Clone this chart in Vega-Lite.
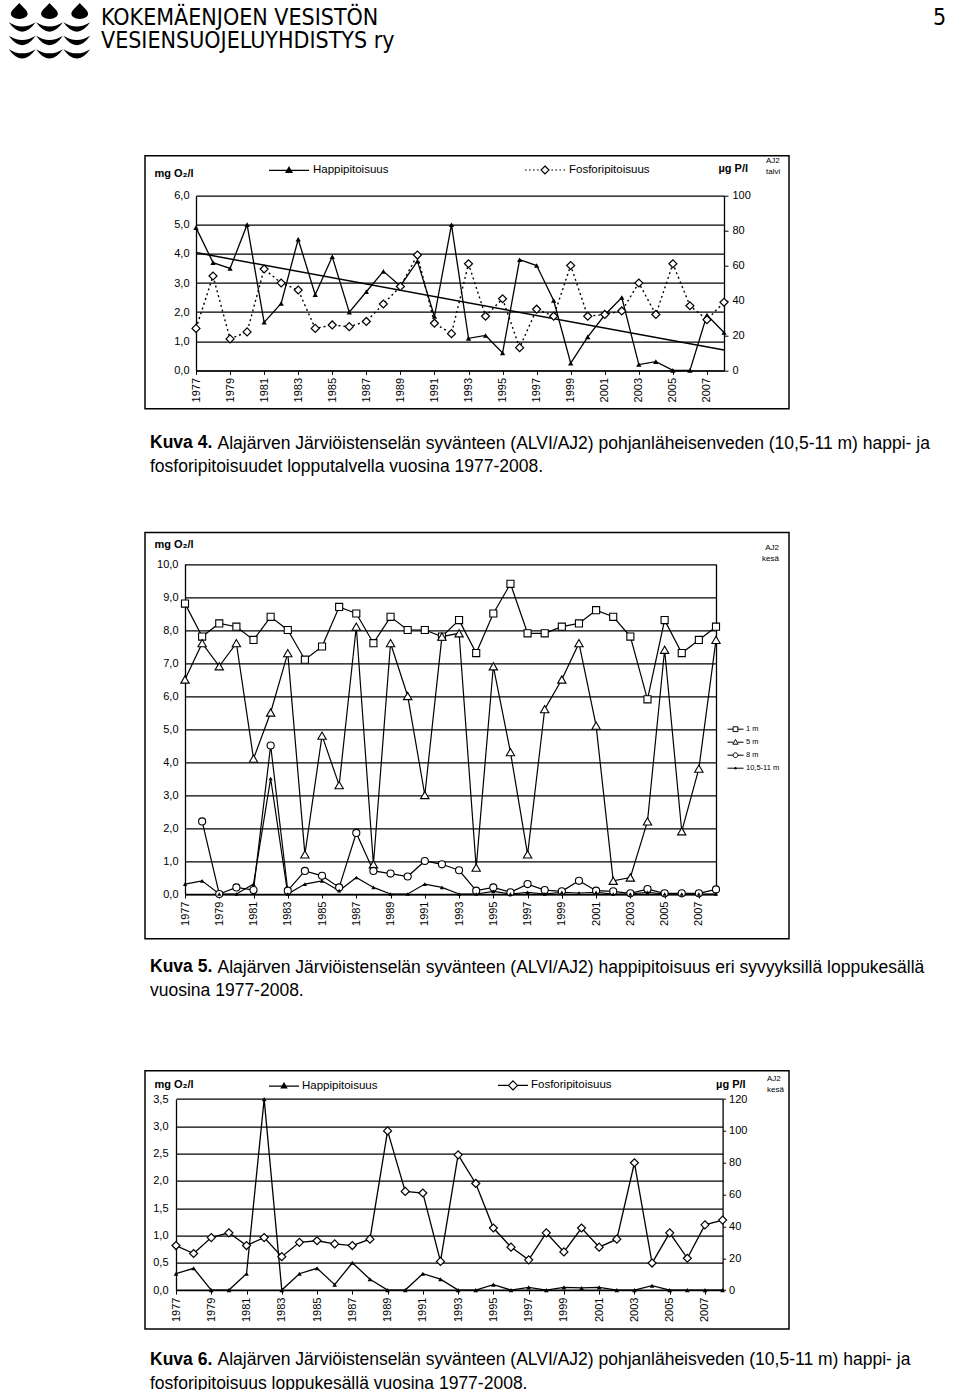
{
  "$schema": "https://vega.github.io/schema/vega-lite/v6.json",
  "background": "white",
  "padding": {"left": 8, "top": 0, "right": 5, "bottom": 5},
  "bounds": "flush",
  "spacing": 123.7,
  "resolve": {"scale": {"shape": "independent", "fill": "independent", "size": "independent", "stroke": "independent"}, "legend": {"shape": "independent", "fill": "independent", "stroke": "independent"}},
  "config": {
    "view": {"stroke": "black", "strokeWidth": 1.5},
    "font": "Liberation Sans",
    "axis": {"labelColor": "black", "titleColor": "black", "labelFont": "Liberation Sans", "titleFont": "Liberation Sans", "titleLimit": 2000},
    "legend": {"labelColor": "black", "labelFont": "Liberation Sans", "titleColor": "black", "titleFont": "Liberation Sans", "symbolStrokeColor": "black"},
    "title": {"color": "black", "subtitleColor": "black", "font": "Liberation Sans", "subtitleFont": "Liberation Sans"}
  },
  "datasets": {
    "winter": [
      {"year": 1977, "o2": 4.9, "p": 24}, {"year": 1978, "o2": 3.7, "p": 54}, {"year": 1979, "o2": 3.5, "p": 18},
      {"year": 1980, "o2": 5.0, "p": 22}, {"year": 1981, "o2": 1.65, "p": 58}, {"year": 1982, "o2": 2.3, "p": 50},
      {"year": 1983, "o2": 4.5, "p": 46}, {"year": 1984, "o2": 2.6, "p": 24}, {"year": 1985, "o2": 3.9, "p": 26},
      {"year": 1986, "o2": 2.0, "p": 25}, {"year": 1987, "o2": 2.7, "p": 28}, {"year": 1988, "o2": 3.4, "p": 38},
      {"year": 1989, "o2": 2.9, "p": 48}, {"year": 1990, "o2": 3.75, "p": 66}, {"year": 1991, "o2": 1.85, "p": 27},
      {"year": 1992, "o2": 5.0, "p": 21}, {"year": 1993, "o2": 1.1, "p": 61}, {"year": 1994, "o2": 1.2, "p": 31},
      {"year": 1995, "o2": 0.6, "p": 41}, {"year": 1996, "o2": 3.8, "p": 13}, {"year": 1997, "o2": 3.6, "p": 35},
      {"year": 1998, "o2": 2.4, "p": 31}, {"year": 1999, "o2": 0.25, "p": 60}, {"year": 2000, "o2": 1.15, "p": 31},
      {"year": 2001, "o2": 1.9, "p": 32}, {"year": 2002, "o2": 2.5, "p": 34}, {"year": 2003, "o2": 0.2, "p": 50},
      {"year": 2004, "o2": 0.3, "p": 32}, {"year": 2005, "o2": 0.0, "p": 61}, {"year": 2006, "o2": 0.0, "p": 37},
      {"year": 2007, "o2": 1.9, "p": 29}, {"year": 2008, "o2": 1.3, "p": 39}
    ],
    "depths": [
      {"year": 1977, "depth": "1 m", "o2": 8.8}, {"year": 1978, "depth": "1 m", "o2": 7.8}, {"year": 1979, "depth": "1 m", "o2": 8.2},
      {"year": 1980, "depth": "1 m", "o2": 8.1}, {"year": 1981, "depth": "1 m", "o2": 7.7}, {"year": 1982, "depth": "1 m", "o2": 8.4},
      {"year": 1983, "depth": "1 m", "o2": 8.0}, {"year": 1984, "depth": "1 m", "o2": 7.1}, {"year": 1985, "depth": "1 m", "o2": 7.5},
      {"year": 1986, "depth": "1 m", "o2": 8.7}, {"year": 1987, "depth": "1 m", "o2": 8.5}, {"year": 1988, "depth": "1 m", "o2": 7.6},
      {"year": 1989, "depth": "1 m", "o2": 8.4}, {"year": 1990, "depth": "1 m", "o2": 8.0}, {"year": 1991, "depth": "1 m", "o2": 8.0},
      {"year": 1992, "depth": "1 m", "o2": 7.8}, {"year": 1993, "depth": "1 m", "o2": 8.3}, {"year": 1994, "depth": "1 m", "o2": 7.3},
      {"year": 1995, "depth": "1 m", "o2": 8.5}, {"year": 1996, "depth": "1 m", "o2": 9.4}, {"year": 1997, "depth": "1 m", "o2": 7.9},
      {"year": 1998, "depth": "1 m", "o2": 7.9}, {"year": 1999, "depth": "1 m", "o2": 8.1}, {"year": 2000, "depth": "1 m", "o2": 8.2},
      {"year": 2001, "depth": "1 m", "o2": 8.6}, {"year": 2002, "depth": "1 m", "o2": 8.4}, {"year": 2003, "depth": "1 m", "o2": 7.8},
      {"year": 2004, "depth": "1 m", "o2": 5.9}, {"year": 2005, "depth": "1 m", "o2": 8.3}, {"year": 2006, "depth": "1 m", "o2": 7.3},
      {"year": 2007, "depth": "1 m", "o2": 7.7}, {"year": 2008, "depth": "1 m", "o2": 8.1},
      {"year": 1977, "depth": "5 m", "o2": 6.5}, {"year": 1978, "depth": "5 m", "o2": 7.6}, {"year": 1979, "depth": "5 m", "o2": 6.9},
      {"year": 1980, "depth": "5 m", "o2": 7.6}, {"year": 1981, "depth": "5 m", "o2": 4.1}, {"year": 1982, "depth": "5 m", "o2": 5.5},
      {"year": 1983, "depth": "5 m", "o2": 7.3}, {"year": 1984, "depth": "5 m", "o2": 1.2}, {"year": 1985, "depth": "5 m", "o2": 4.8},
      {"year": 1986, "depth": "5 m", "o2": 3.3}, {"year": 1987, "depth": "5 m", "o2": 8.1}, {"year": 1988, "depth": "5 m", "o2": 0.9},
      {"year": 1989, "depth": "5 m", "o2": 7.6}, {"year": 1990, "depth": "5 m", "o2": 6.0}, {"year": 1991, "depth": "5 m", "o2": 3.0},
      {"year": 1992, "depth": "5 m", "o2": 7.8}, {"year": 1993, "depth": "5 m", "o2": 7.9}, {"year": 1994, "depth": "5 m", "o2": 0.8},
      {"year": 1995, "depth": "5 m", "o2": 6.9}, {"year": 1996, "depth": "5 m", "o2": 4.3}, {"year": 1997, "depth": "5 m", "o2": 1.2},
      {"year": 1998, "depth": "5 m", "o2": 5.6}, {"year": 1999, "depth": "5 m", "o2": 6.5}, {"year": 2000, "depth": "5 m", "o2": 7.6},
      {"year": 2001, "depth": "5 m", "o2": 5.1}, {"year": 2002, "depth": "5 m", "o2": 0.4}, {"year": 2003, "depth": "5 m", "o2": 0.5},
      {"year": 2004, "depth": "5 m", "o2": 2.2}, {"year": 2005, "depth": "5 m", "o2": 7.4}, {"year": 2006, "depth": "5 m", "o2": 1.9},
      {"year": 2007, "depth": "5 m", "o2": 3.8}, {"year": 2008, "depth": "5 m", "o2": 7.7},
      {"year": 1978, "depth": "8 m", "o2": 2.2}, {"year": 1979, "depth": "8 m", "o2": 0.0},
      {"year": 1980, "depth": "8 m", "o2": 0.2}, {"year": 1981, "depth": "8 m", "o2": 0.12}, {"year": 1982, "depth": "8 m", "o2": 4.5},
      {"year": 1983, "depth": "8 m", "o2": 0.1}, {"year": 1984, "depth": "8 m", "o2": 0.7}, {"year": 1985, "depth": "8 m", "o2": 0.55},
      {"year": 1986, "depth": "8 m", "o2": 0.2}, {"year": 1987, "depth": "8 m", "o2": 1.85}, {"year": 1988, "depth": "8 m", "o2": 0.7},
      {"year": 1989, "depth": "8 m", "o2": 0.62}, {"year": 1990, "depth": "8 m", "o2": 0.53}, {"year": 1991, "depth": "8 m", "o2": 1.0},
      {"year": 1992, "depth": "8 m", "o2": 0.9}, {"year": 1993, "depth": "8 m", "o2": 0.72}, {"year": 1994, "depth": "8 m", "o2": 0.1},
      {"year": 1995, "depth": "8 m", "o2": 0.2}, {"year": 1996, "depth": "8 m", "o2": 0.05}, {"year": 1997, "depth": "8 m", "o2": 0.3},
      {"year": 1998, "depth": "8 m", "o2": 0.12}, {"year": 1999, "depth": "8 m", "o2": 0.08}, {"year": 2000, "depth": "8 m", "o2": 0.4},
      {"year": 2001, "depth": "8 m", "o2": 0.1}, {"year": 2002, "depth": "8 m", "o2": 0.08}, {"year": 2003, "depth": "8 m", "o2": 0.02},
      {"year": 2004, "depth": "8 m", "o2": 0.15}, {"year": 2005, "depth": "8 m", "o2": 0.02}, {"year": 2006, "depth": "8 m", "o2": 0.02},
      {"year": 2007, "depth": "8 m", "o2": 0.02}, {"year": 2008, "depth": "8 m", "o2": 0.14},
      {"year": 1977, "depth": "10,5-11 m", "o2": 0.3}, {"year": 1978, "depth": "10,5-11 m", "o2": 0.4}, {"year": 1979, "depth": "10,5-11 m", "o2": 0.0},
      {"year": 1980, "depth": "10,5-11 m", "o2": 0.0}, {"year": 1981, "depth": "10,5-11 m", "o2": 0.3}, {"year": 1982, "depth": "10,5-11 m", "o2": 3.5},
      {"year": 1983, "depth": "10,5-11 m", "o2": 0.0}, {"year": 1984, "depth": "10,5-11 m", "o2": 0.3}, {"year": 1985, "depth": "10,5-11 m", "o2": 0.4},
      {"year": 1986, "depth": "10,5-11 m", "o2": 0.1}, {"year": 1987, "depth": "10,5-11 m", "o2": 0.5}, {"year": 1988, "depth": "10,5-11 m", "o2": 0.2},
      {"year": 1989, "depth": "10,5-11 m", "o2": 0.0}, {"year": 1990, "depth": "10,5-11 m", "o2": 0.0}, {"year": 1991, "depth": "10,5-11 m", "o2": 0.3},
      {"year": 1992, "depth": "10,5-11 m", "o2": 0.2}, {"year": 1993, "depth": "10,5-11 m", "o2": 0.0}, {"year": 1994, "depth": "10,5-11 m", "o2": 0.0},
      {"year": 1995, "depth": "10,5-11 m", "o2": 0.08}, {"year": 1996, "depth": "10,5-11 m", "o2": 0.0}, {"year": 1997, "depth": "10,5-11 m", "o2": 0.05},
      {"year": 1998, "depth": "10,5-11 m", "o2": 0.0}, {"year": 1999, "depth": "10,5-11 m", "o2": 0.05}, {"year": 2000, "depth": "10,5-11 m", "o2": 0.03},
      {"year": 2001, "depth": "10,5-11 m", "o2": 0.05}, {"year": 2002, "depth": "10,5-11 m", "o2": 0.0}, {"year": 2003, "depth": "10,5-11 m", "o2": 0.0},
      {"year": 2004, "depth": "10,5-11 m", "o2": 0.05}, {"year": 2005, "depth": "10,5-11 m", "o2": 0.0}, {"year": 2006, "depth": "10,5-11 m", "o2": 0.0},
      {"year": 2007, "depth": "10,5-11 m", "o2": 0.0}, {"year": 2008, "depth": "10,5-11 m", "o2": 0.0}
    ],
    "summer": [
      {"year": 1977, "o2": 0.3, "p": 28}, {"year": 1978, "o2": 0.4, "p": 23}, {"year": 1979, "o2": 0.0, "p": 33},
      {"year": 1980, "o2": 0.0, "p": 36}, {"year": 1981, "o2": 0.3, "p": 28}, {"year": 1982, "o2": 3.5, "p": 33},
      {"year": 1983, "o2": 0.0, "p": 21}, {"year": 1984, "o2": 0.3, "p": 30}, {"year": 1985, "o2": 0.4, "p": 31},
      {"year": 1986, "o2": 0.1, "p": 29}, {"year": 1987, "o2": 0.5, "p": 28}, {"year": 1988, "o2": 0.2, "p": 32},
      {"year": 1989, "o2": 0.0, "p": 100}, {"year": 1990, "o2": 0.0, "p": 62}, {"year": 1991, "o2": 0.3, "p": 61},
      {"year": 1992, "o2": 0.2, "p": 18}, {"year": 1993, "o2": 0.0, "p": 85}, {"year": 1994, "o2": 0.0, "p": 67},
      {"year": 1995, "o2": 0.1, "p": 39}, {"year": 1996, "o2": 0.0, "p": 27}, {"year": 1997, "o2": 0.05, "p": 19},
      {"year": 1998, "o2": 0.0, "p": 36}, {"year": 1999, "o2": 0.05, "p": 24}, {"year": 2000, "o2": 0.04, "p": 39},
      {"year": 2001, "o2": 0.05, "p": 27}, {"year": 2002, "o2": 0.0, "p": 32}, {"year": 2003, "o2": 0.0, "p": 80},
      {"year": 2004, "o2": 0.08, "p": 17}, {"year": 2005, "o2": 0.0, "p": 36}, {"year": 2006, "o2": 0.0, "p": 20},
      {"year": 2007, "o2": 0.0, "p": 41}, {"year": 2008, "o2": 0.0, "p": 44}
    ]
  },
  "vconcat": [
    {
      "width": 644,
      "height": 31.3,
      "view": {"stroke": null},
      "layer": [
        {
          "data": {"values": [{"emblem": "KVVY"}]},
          "mark": {"type": "point", "filled": true, "fill": "black", "strokeWidth": 0, "opacity": 1, "size": 7056,
            "shape": "M-0.72,-0.68C-0.62,-0.56 -0.52,-0.5 -0.52,-0.42C-0.52,-0.35 -0.61,-0.3 -0.72,-0.3C-0.83,-0.3 -0.92,-0.35 -0.92,-0.42C-0.92,-0.5 -0.82,-0.56 -0.72,-0.68Z M0,-0.68C0.1,-0.56 0.2,-0.5 0.2,-0.42C0.2,-0.35 0.11,-0.3 0,-0.3C-0.11,-0.3 -0.2,-0.35 -0.2,-0.42C-0.2,-0.5 -0.1,-0.56 0,-0.68Z M0.72,-0.68C0.82,-0.56 0.92,-0.5 0.92,-0.42C0.92,-0.35 0.83,-0.3 0.72,-0.3C0.61,-0.3 0.52,-0.35 0.52,-0.42C0.52,-0.5 0.62,-0.56 0.72,-0.68Z M-0.97,-0.22Q-0.65,-0.02 -0.33,-0.22Q-0.65,0.23 -0.97,-0.22Z M-0.32,-0.22Q0,-0.02 0.32,-0.22Q0,0.23 -0.32,-0.22Z M0.33,-0.22Q0.65,-0.02 0.97,-0.22Q0.65,0.23 0.33,-0.22Z M-0.97,0.1Q-0.65,0.3 -0.33,0.1Q-0.65,0.55 -0.97,0.1Z M-0.32,0.1Q0,0.3 0.32,0.1Q0,0.55 -0.32,0.1Z M0.33,0.1Q0.65,0.3 0.97,0.1Q0.65,0.55 0.33,0.1Z M-0.97,0.42Q-0.65,0.62 -0.33,0.42Q-0.65,0.87 -0.97,0.42Z M-0.32,0.42Q0,0.62 0.32,0.42Q0,0.87 -0.32,0.42Z M0.33,0.42Q0.65,0.62 0.97,0.42Q0.65,0.87 0.33,0.42Z"},
          "encoding": {
            "x": {"field": "emblem", "type": "nominal", "scale": {"type": "point", "padding": 0, "range": [-95.5, -95.5]}, "axis": null},
            "y": {"field": "emblem", "type": "nominal", "scale": {"type": "point", "padding": 0, "range": [31.5, 31.5]}, "axis": null}
          }
        },
        {
          "data": {"values": [
            {"block": "name", "line": "1", "text": "KOKEMÄENJOEN VESISTÖN"},
            {"block": "name", "line": "2", "text": "VESIENSUOJELUYHDISTYS ry"},
            {"block": "page", "line": "1", "text": "5"}
          ]},
          "mark": {"type": "text", "align": "left", "baseline": "alphabetic", "font": "DejaVu Sans Condensed, Liberation Sans Narrow, sans-serif", "fontSize": 23, "color": "black"},
          "encoding": {
            "x": {"field": "block", "type": "nominal", "scale": {"type": "point", "padding": 0, "domain": ["name", "page"], "range": [-44, 788]}, "axis": null},
            "y": {"field": "line", "type": "ordinal", "scale": {"type": "point", "padding": 0, "domain": ["1", "2"], "range": [24.5, 47.8]}, "axis": null},
            "text": {"field": "text"}
          }
        }
      ],
      "resolve": {"scale": {"x": "independent", "y": "independent"}}
    },
    {
      "width": 644,
      "height": 253,
      "title": {
        "text": "Kuva 4.",
        "subtitle": "fosforipitoisuudet lopputalvella vuosina 1977-2008.",
        "orient": "bottom", "anchor": "start", "frame": "group", "offset": -17.5, "dx": 5,
        "fontSize": 17.5, "fontWeight": "bold", "subtitleFontSize": 17.5, "subtitlePadding": 6.5
      },
      "layer": [
        {
          "data": {"name": "winter"},
          "mark": {"type": "line", "color": "black", "strokeWidth": 1.3},
          "encoding": {
            "x": {"field": "year", "type": "quantitative", "scale": {"domain": [1977, 2008], "range": [51, 579], "nice": false, "zero": false},
              "axis": {"orient": "bottom", "offset": -38.3, "values": [1977,1978,1979,1980,1981,1982,1983,1984,1985,1986,1987,1988,1989,1990,1991,1992,1993,1994,1995,1996,1997,1998,1999,2000,2001,2002,2003,2004,2005,2006,2007,2008],
                "labelExpr": "(datum.value - 1977) % 2 === 0 ? '' + datum.value : ''", "labelAngle": -90, "labelAlign": "right", "labelBaseline": "middle", "labelFontSize": 11, "labelPadding": 3, "labelOverlap": false, "labelFlush": false,
                "ticks": true, "tickSize": 4, "tickColor": "black", "domain": true, "domainColor": "black", "domainWidth": 1.3, "grid": false,
                "title": "Alajärven Järviöistenselän syvänteen (ALVI/AJ2) pohjanläheisenveden (10,5-11 m) happi- ja",
                "titleX": 72, "titleY": 77.6, "titleAlign": "left", "titleBaseline": "alphabetic", "titleAngle": 0, "titleFontSize": 17.5, "titleFontWeight": "normal"}},
            "y": {"field": "o2", "type": "quantitative", "scale": {"domain": [0, 6], "range": [214.7, 39.9], "nice": false},
              "axis": {"orient": "left", "offset": -51, "values": [0,1,2,3,4,5,6], "labelExpr": "replace(format(datum.value, '.1f'), '.', ',')", "labelFontSize": 11, "labelPadding": 7,
                "ticks": false, "grid": true, "gridColor": "black", "gridWidth": 1.3, "domain": true, "domainColor": "black", "domainWidth": 1.3,
                "title": "mg O₂/l", "titleAngle": 0, "titleX": -42, "titleY": 18, "titleAlign": "left", "titleBaseline": "middle", "titleFontSize": 11, "titleFontWeight": "bold"}}
          }
        },
        {
          "data": {"name": "winter"},
          "transform": [{"regression": "o2", "on": "year"}],
          "mark": {"type": "line", "color": "black", "strokeWidth": 1.5},
          "encoding": {
            "x": {"field": "year", "type": "quantitative"},
            "y": {"field": "o2", "type": "quantitative", "scale": {"domain": [0, 6], "range": [214.7, 39.9], "nice": false}, "axis": null}
          }
        },
        {
          "data": {"name": "winter"},
          "mark": {"type": "line", "color": "black", "strokeWidth": 1.4, "strokeDash": [2, 3]},
          "encoding": {
            "x": {"field": "year", "type": "quantitative"},
            "y": {"field": "p", "type": "quantitative", "scale": {"domain": [0, 100], "range": [214.7, 39.9], "nice": false},
              "axis": {"orient": "right", "offset": -65, "values": [0,20,40,60,80,100], "labelFontSize": 11, "labelPadding": 4, "ticks": true, "tickSize": 4, "tickColor": "black",
                "grid": false, "domain": true, "domainColor": "black", "domainWidth": 1.3,
                "title": "µg P/l", "titleAngle": 0, "titleX": -6, "titleY": 13, "titleAlign": "left", "titleBaseline": "middle", "titleFontSize": 11, "titleFontWeight": "bold"}}
          }
        },
        {
          "data": {"name": "winter"},
          "mark": {"type": "point", "shape": "triangle-up", "filled": true, "color": "black", "opacity": 1, "size": 28},
          "encoding": {
            "x": {"field": "year", "type": "quantitative"},
            "y": {"field": "o2", "type": "quantitative", "scale": {"domain": [0, 6], "range": [214.7, 39.9], "nice": false}, "axis": null}
          }
        },
        {
          "data": {"name": "winter"},
          "mark": {"type": "point", "shape": "diamond", "filled": true, "fill": "white", "stroke": "black", "strokeWidth": 1.2, "opacity": 1, "size": 64},
          "encoding": {
            "x": {"field": "year", "type": "quantitative"},
            "y": {"field": "p", "type": "quantitative", "scale": {"domain": [0, 100], "range": [214.7, 39.9], "nice": false}, "axis": null}
          }
        },
        {
          "data": {"name": "winter"},
          "transform": [{"filter": "false"}],
          "mark": {"type": "point", "filled": true, "strokeWidth": 1.2, "opacity": 1},
          "encoding": {
            "shape": {"datum": "Happipitoisuus", "type": "nominal",
              "scale": {"domain": ["Happipitoisuus", "Fosforipitoisuus"], "range": ["M-1,0H1M0,-0.16L0.15,0.1L-0.15,0.1Z", "M-1,0H-0.92M-0.8,0H-0.72M-0.6,0H-0.52M-0.4,0H-0.32M0.32,0H0.4M0.52,0H0.6M0.72,0H0.8M0.92,0H1M0,-0.2L0.2,0L0,0.2L-0.2,0Z"]},
              "legend": {"orient": "none", "legendX": 123, "legendY": -7, "direction": "horizontal", "padding": 0,
                "symbolSize": 1600, "symbolStrokeWidth": 1.2, "symbolStrokeColor": "black", "labelFontSize": 11.5, "labelOffset": 3, "columnPadding": 133,
                "title": ["AJ2", "talvi"], "titleOrient": "right", "titlePadding": 116, "titleAnchor": "middle", "titleBaseline": "top", "titleAlign": "left",
                "titleFontSize": 8, "titleFontWeight": "normal", "titleLineHeight": 11}},
            "fill": {"datum": "Happipitoisuus", "type": "nominal",
              "scale": {"domain": ["Happipitoisuus", "Fosforipitoisuus"], "range": ["black", "white"]}},
            "stroke": {"datum": "Happipitoisuus", "type": "nominal",
              "scale": {"domain": ["Happipitoisuus", "Fosforipitoisuus"], "range": ["black", "black"]}}
          }
        }
      ],
      "resolve": {"scale": {"y": "independent"}}
    },
    {
      "bounds": "flush",
      "spacing": 131.3,
      "resolve": {"scale": {"shape": "independent", "fill": "independent", "size": "independent", "stroke": "independent"}, "legend": {"shape": "independent", "fill": "independent", "stroke": "independent"}},
      "vconcat": [
        {
          "width": 644,
          "height": 406.3,
          "title": {
            "text": "Kuva 5.",
            "subtitle": "vuosina 1977-2008.",
            "orient": "bottom", "anchor": "start", "frame": "group", "offset": -17.5, "dx": 5,
            "fontSize": 17.5, "fontWeight": "bold", "subtitleFontSize": 17.5, "subtitlePadding": 6.5
          },
          "data": {"name": "depths"},
          "layer": [
            {
              "mark": {"type": "line", "color": "black", "strokeWidth": 1.2},
              "encoding": {
                "x": {"field": "year", "type": "quantitative", "scale": {"domain": [1977, 2008], "range": [40, 571], "nice": false, "zero": false},
                  "axis": {"orient": "bottom", "offset": -44.7, "values": [1977,1978,1979,1980,1981,1982,1983,1984,1985,1986,1987,1988,1989,1990,1991,1992,1993,1994,1995,1996,1997,1998,1999,2000,2001,2002,2003,2004,2005,2006,2007,2008],
                    "labelExpr": "'' + datum.value", "labelAngle": -90, "labelAlign": "right", "labelBaseline": "middle", "labelFontSize": 11, "labelPadding": 3, "labelOverlap": false, "labelFlush": false,
                    "ticks": true, "tickSize": 4, "tickColor": "black", "domain": true, "domainColor": "black", "domainWidth": 1.3, "grid": false,
                    "title": "Alajärven Järviöistenselän syvänteen (ALVI/AJ2) happipitoisuus eri syvyyksillä loppukesällä",
                    "titleX": 72, "titleY": 78, "titleAlign": "left", "titleBaseline": "alphabetic", "titleAngle": 0, "titleFontSize": 17.5, "titleFontWeight": "normal"}},
                "y": {"field": "o2", "type": "quantitative", "scale": {"domain": [0, 10], "range": [361.6, 31.6], "nice": false},
                  "axis": {"orient": "left", "offset": -40, "values": [0,1,2,3,4,5,6,7,8,9,10], "labelExpr": "replace(format(datum.value, '.1f'), '.', ',')", "labelFontSize": 11, "labelPadding": 7,
                    "ticks": false, "grid": true, "gridColor": "black", "gridWidth": 1.3, "domain": true, "domainColor": "black", "domainWidth": 1.3,
                    "title": "mg O₂/l", "titleAngle": 0, "titleX": -31, "titleY": 12.3, "titleAlign": "left", "titleBaseline": "middle", "titleFontSize": 11, "titleFontWeight": "bold"}},
                "detail": {"field": "depth", "type": "nominal"}
              }
            },
            {
              "transform": [{"filter": "datum.depth === '1 m'"}],
              "mark": {"type": "point", "shape": "square", "filled": true, "fill": "white", "stroke": "black", "strokeWidth": 1.1, "opacity": 1, "size": 50},
              "encoding": {
                "x": {"field": "year", "type": "quantitative"},
                "y": {"field": "o2", "type": "quantitative", "scale": {"domain": [0, 10], "range": [361.6, 31.6], "nice": false},
                  "axis": {"orient": "right", "offset": -73, "labels": false, "ticks": false, "grid": false, "domain": true, "domainColor": "black", "domainWidth": 1.3, "title": null}}
              }
            },
            {
              "transform": [{"filter": "datum.depth === '5 m'"}],
              "mark": {"type": "point", "shape": "triangle-up", "filled": true, "fill": "white", "stroke": "black", "strokeWidth": 1.1, "opacity": 1, "size": 70},
              "encoding": {
                "x": {"field": "year", "type": "quantitative"},
                "y": {"field": "o2", "type": "quantitative", "scale": {"domain": [0, 10], "range": [361.6, 31.6], "nice": false}, "axis": null}
              }
            },
            {
              "transform": [{"filter": "datum.depth === '8 m'"}],
              "mark": {"type": "point", "shape": "circle", "filled": true, "fill": "white", "stroke": "black", "strokeWidth": 1.1, "opacity": 1, "size": 50},
              "encoding": {
                "x": {"field": "year", "type": "quantitative"},
                "y": {"field": "o2", "type": "quantitative", "scale": {"domain": [0, 10], "range": [361.6, 31.6], "nice": false}, "axis": null}
              }
            },
            {
              "transform": [{"filter": "datum.depth === '10,5-11 m'"}],
              "mark": {"type": "point", "shape": "triangle-up", "filled": true, "color": "black", "opacity": 1, "size": 18},
              "encoding": {
                "x": {"field": "year", "type": "quantitative"},
                "y": {"field": "o2", "type": "quantitative", "scale": {"domain": [0, 10], "range": [361.6, 31.6], "nice": false}, "axis": null}
              }
            },
            {
              "transform": [{"filter": "false"}],
              "mark": {"type": "point", "filled": true, "strokeWidth": 1, "opacity": 1},
              "encoding": {
                "shape": {"field": "depth", "type": "nominal",
                  "scale": {"domain": ["1 m", "5 m", "8 m", "10,5-11 m"], "range": ["M-1,0H-0.3M0.3,0H1M-0.3,-0.3H0.3V0.3H-0.3Z", "M-1,0H-0.3M0.3,0H1M0,-0.35L0.33,0.25H-0.33Z", "M-1,0H-0.3M0.3,0H1M0.3,0A0.3,0.3 0 1 1 -0.3,0A0.3,0.3 0 1 1 0.3,0Z", "M-1,0H1M0,-0.15L0.12,0.08H-0.12Z"]},
                  "legend": {"orient": "none", "legendX": 582, "legendY": 11.3, "direction": "vertical", "padding": 0,
                    "symbolSize": 256, "symbolStrokeWidth": 1, "symbolStrokeColor": "black", "labelFontSize": 7.5, "labelOffset": 2, "rowPadding": -2.7,
                    "title": ["AJ2", "kesä"], "titleOrient": "top", "titlePadding": 158, "titleAnchor": "end",
                    "titleFontSize": 8, "titleFontWeight": "normal", "titleLineHeight": 11}},
                "fill": {"field": "depth", "type": "nominal",
                  "scale": {"domain": ["1 m", "5 m", "8 m", "10,5-11 m"], "range": ["white", "white", "white", "black"]}},
                "stroke": {"field": "depth", "type": "nominal",
                  "scale": {"domain": ["1 m", "5 m", "8 m", "10,5-11 m"], "range": ["black", "black", "black", "black"]}}
              }
            }
          ],
          "resolve": {"scale": {"y": "independent", "shape": "independent", "fill": "independent", "size": "independent", "stroke": "independent"}}
        },
        {
          "width": 644,
          "height": 258.4,
          "title": {
            "text": "Kuva 6.",
            "subtitle": "fosforipitoisuus loppukesällä vuosina 1977-2008.",
            "orient": "bottom", "anchor": "start", "frame": "group", "offset": -17.5, "dx": 5,
            "fontSize": 17.5, "fontWeight": "bold", "subtitleFontSize": 17.5, "subtitlePadding": 6.5
          },
          "layer": [
            {
              "data": {"name": "summer"},
              "mark": {"type": "line", "color": "black", "strokeWidth": 1.3},
              "encoding": {
                "x": {"field": "year", "type": "quantitative", "scale": {"domain": [1977, 2008], "range": [31, 577.6], "nice": false, "zero": false},
                  "axis": {"orient": "bottom", "offset": -39, "values": [1977,1978,1979,1980,1981,1982,1983,1984,1985,1986,1987,1988,1989,1990,1991,1992,1993,1994,1995,1996,1997,1998,1999,2000,2001,2002,2003,2004,2005,2006,2007,2008],
                    "labelExpr": "(datum.value - 1977) % 2 === 0 ? '' + datum.value : ''", "labelAngle": -90, "labelAlign": "right", "labelBaseline": "middle", "labelFontSize": 11, "labelPadding": 3, "labelOverlap": false, "labelFlush": false,
                    "ticks": true, "tickSize": 4, "tickColor": "black", "domain": true, "domainColor": "black", "domainWidth": 1.3, "grid": false,
                    "title": "Alajärven Järviöistenselän syvänteen (ALVI/AJ2) pohjanläheisveden (10,5-11 m) happi- ja",
                    "titleX": 72, "titleY": 74.6, "titleAlign": "left", "titleBaseline": "alphabetic", "titleAngle": 0, "titleFontSize": 17.5, "titleFontWeight": "normal"}},
                "y": {"field": "o2", "type": "quantitative", "scale": {"domain": [0, 3.5], "range": [219.4, 28.4], "nice": false},
                  "axis": {"orient": "left", "offset": -31, "values": [0,0.5,1,1.5,2,2.5,3,3.5], "labelExpr": "replace(format(datum.value, '.1f'), '.', ',')", "labelFontSize": 11, "labelPadding": 8,
                    "ticks": false, "grid": true, "gridColor": "black", "gridWidth": 1.3, "domain": true, "domainColor": "black", "domainWidth": 1.3,
                    "title": "mg O₂/l", "titleAngle": 0, "titleX": -22, "titleY": 13.7, "titleAlign": "left", "titleBaseline": "middle", "titleFontSize": 11, "titleFontWeight": "bold"}}
              }
            },
            {
              "data": {"name": "summer"},
              "mark": {"type": "line", "color": "black", "strokeWidth": 1.3},
              "encoding": {
                "x": {"field": "year", "type": "quantitative"},
                "y": {"field": "p", "type": "quantitative", "scale": {"domain": [0, 120], "range": [219.4, 28.4], "nice": false},
                  "axis": {"orient": "right", "offset": -66.4, "values": [0,20,40,60,80,100,120], "labelFontSize": 11, "labelPadding": 3, "ticks": true, "tickSize": 3, "tickColor": "black",
                    "grid": false, "domain": true, "domainColor": "black", "domainWidth": 1.3,
                    "title": "µg P/l", "titleAngle": 0, "titleX": -7, "titleY": 13.7, "titleAlign": "left", "titleBaseline": "middle", "titleFontSize": 11, "titleFontWeight": "bold"}}
              }
            },
            {
              "data": {"name": "summer"},
              "mark": {"type": "point", "shape": "triangle-up", "filled": true, "color": "black", "opacity": 1, "size": 22},
              "encoding": {
                "x": {"field": "year", "type": "quantitative"},
                "y": {"field": "o2", "type": "quantitative", "scale": {"domain": [0, 3.5], "range": [219.4, 28.4], "nice": false}, "axis": null}
              }
            },
            {
              "data": {"name": "summer"},
              "mark": {"type": "point", "shape": "diamond", "filled": true, "fill": "white", "stroke": "black", "strokeWidth": 1.2, "opacity": 1, "size": 64},
              "encoding": {
                "x": {"field": "year", "type": "quantitative"},
                "y": {"field": "p", "type": "quantitative", "scale": {"domain": [0, 120], "range": [219.4, 28.4], "nice": false}, "axis": null}
              }
            },
            {
              "data": {"name": "summer"},
              "transform": [{"filter": "false"}],
              "mark": {"type": "point", "filled": true, "strokeWidth": 1.2, "opacity": 1},
              "encoding": {
                "shape": {"datum": "Happipitoisuus", "type": "nominal",
                  "scale": {"domain": ["Happipitoisuus", "Fosforipitoisuus"], "range": ["M-1,0H1M0,-0.2L0.18,0.12L-0.18,0.12Z", "M-1,0H-0.3M0.3,0H1M0,-0.3L0.3,0L0,0.3L-0.3,0Z"]},
                  "legend": {"orient": "none", "legendX": 123, "legendY": -1.3, "direction": "horizontal", "padding": 0,
                    "symbolSize": 900, "symbolStrokeWidth": 1.2, "symbolStrokeColor": "black", "labelFontSize": 11.5, "labelOffset": 2, "columnPadding": 117,
                    "title": ["AJ2", "kesä"], "titleOrient": "right", "titlePadding": 155, "titleAnchor": "middle", "titleBaseline": "top", "titleAlign": "left",
                    "titleFontSize": 8, "titleFontWeight": "normal", "titleLineHeight": 11}},
                "fill": {"datum": "Happipitoisuus", "type": "nominal",
                  "scale": {"domain": ["Happipitoisuus", "Fosforipitoisuus"], "range": ["black", "white"]}},
                "stroke": {"datum": "Happipitoisuus", "type": "nominal",
                  "scale": {"domain": ["Happipitoisuus", "Fosforipitoisuus"], "range": ["black", "black"]}}
              }
            }
          ],
          "resolve": {"scale": {"y": "independent"}}
        }
      ]
    }
  ]
}
